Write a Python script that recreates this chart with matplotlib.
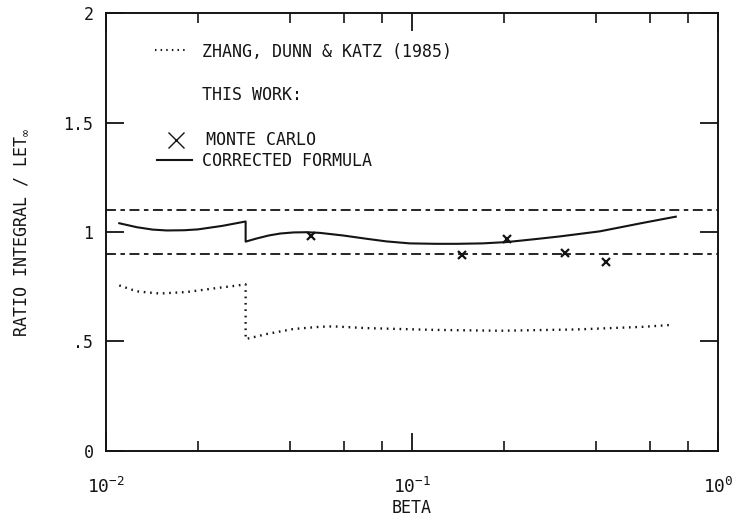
# plot.py
# ratio integral / LET vs beta, log x axis
import numpy as np
import matplotlib
matplotlib.use('Agg')
import matplotlib.pyplot as plt
from matplotlib.ticker import LogLocator, FixedLocator, NullFormatter

plt.rcParams['font.family'] = ['DejaVu Sans Mono', 'DejaVu Sans']
plt.rcParams['mathtext.default'] = 'regular'
plt.rcParams['font.size'] = 12

# DATA
# -----------------------------------
# corrected formula (this work), jump at beta ~ 0.0286
beta_corr = [0.01105, 0.0126, 0.0142, 0.0158, 0.0180, 0.0200, 0.0240, 0.0286,
             0.0286, 0.0310, 0.0340, 0.0371, 0.0410, 0.0453, 0.0500, 0.0596,
             0.0711, 0.0826, 0.0984, 0.1200, 0.1400, 0.1700, 0.2040, 0.2550,
             0.3050, 0.4110, 0.5700, 0.7280]
ratio_corr = [1.040, 1.022, 1.011, 1.007, 1.008, 1.012, 1.028, 1.048,
              0.956, 0.970, 0.984, 0.993, 0.998, 0.999, 0.996, 0.984,
              0.969, 0.957, 0.948, 0.946, 0.946, 0.948, 0.954, 0.968,
              0.980, 1.003, 1.042, 1.070]

# Zhang, Dunn & Katz (1985)
beta_zdk = [0.01105, 0.0126, 0.0150, 0.0184, 0.0230, 0.0260, 0.0286,
            0.0286, 0.0335, 0.0409, 0.0500, 0.0553, 0.0711, 0.1175,
            0.1940, 0.3450, 0.5700, 0.7100]
ratio_zdk = [0.756, 0.729, 0.719, 0.726, 0.744, 0.753, 0.761,
             0.511, 0.534, 0.557, 0.567, 0.569, 0.561, 0.553,
             0.549, 0.555, 0.567, 0.576]

# Monte Carlo points
beta_mc = [0.0467, 0.146, 0.205, 0.316, 0.430]
ratio_mc = [0.982, 0.895, 0.966, 0.902, 0.864]

# +-10 % band
band_levels = [1.1, 0.9]

y_ticks = [0, 0.5, 1, 1.5, 2]
y_tick_labels = ['0', '.5', '1', '1.5', '2']
x_ticks = [1e-2, 1e-1, 1e0]
x_tick_labels = ['$10^{-2}$', '$10^{-1}$', '$10^{0}$']

ink = '#141414'
dot_style = (0.7, 2.0)

# PLOT
# -----------------------------------
fig = plt.figure(figsize=(7.37, 5.25), dpi=100)
ax = fig.add_axes([0.1438, 0.1410, 0.8304, 0.8342])

ax.set_xscale('log')
ax.set_xlim(1e-2, 1e0)
ax.set_ylim(0, 2)

for lvl in band_levels:
    ax.axhline(lvl, color=ink, lw=1.3, dashes=(5.5, 2.5, 2.5, 2.5))

ax.plot(beta_corr, ratio_corr, '-', color=ink, lw=1.5)
ax.plot(beta_zdk, ratio_zdk, color=ink, lw=1.7, dashes=dot_style)
ax.plot(beta_mc, ratio_mc, 'x', color=ink, markersize=6, mew=1.6)

# legend drawn by hand (layout from the original figure)
tr = ax.transAxes
ax.plot([0.080, 0.132], [0.9155, 0.9155], transform=tr, color=ink, lw=1.5, dashes=dot_style)
ax.text(0.157, 0.911, 'ZHANG, DUNN & KATZ (1985)', transform=tr, va='center', ha='left', color=ink)
ax.text(0.157, 0.813, 'THIS WORK:', transform=tr, va='center', ha='left', color=ink)
ax.plot([0.114], [0.710], 'x', transform=tr, color=ink, markersize=11, mew=1.0)
ax.text(0.163, 0.710, 'MONTE CARLO', transform=tr, va='center', ha='left', color=ink)
ax.plot([0.083, 0.141], [0.664, 0.664], transform=tr, color=ink, lw=1.5)
ax.text(0.157, 0.662, 'CORRECTED FORMULA', transform=tr, va='center', ha='left', color=ink)

# ticks
ax.xaxis.set_major_locator(FixedLocator(x_ticks))
ax.set_xticklabels(x_tick_labels)
ax.xaxis.set_minor_locator(LogLocator(base=10, subs=[2, 4, 6, 8]))
ax.xaxis.set_minor_formatter(NullFormatter())
ax.set_yticks(y_ticks)
ax.set_yticklabels(y_tick_labels)
ax.tick_params(which='both', direction='in', top=True, right=True, color=ink, labelcolor=ink)
ax.tick_params(which='major', length=13, width=1.3)
ax.tick_params(which='minor', length=7, width=1.2)
ax.tick_params(axis='x', which='major', pad=19, labelsize=13)
ax.tick_params(axis='y', which='major', pad=9)
for sp in ax.spines.values():
    sp.set_linewidth(1.4)
    sp.set_color(ink)

ax.set_xlabel('BETA', color=ink, labelpad=1)
ax.set_ylabel(r'RATIO INTEGRAL / LET$_\infty$', color=ink, labelpad=24)

fig.savefig('out.png', dpi=100)
